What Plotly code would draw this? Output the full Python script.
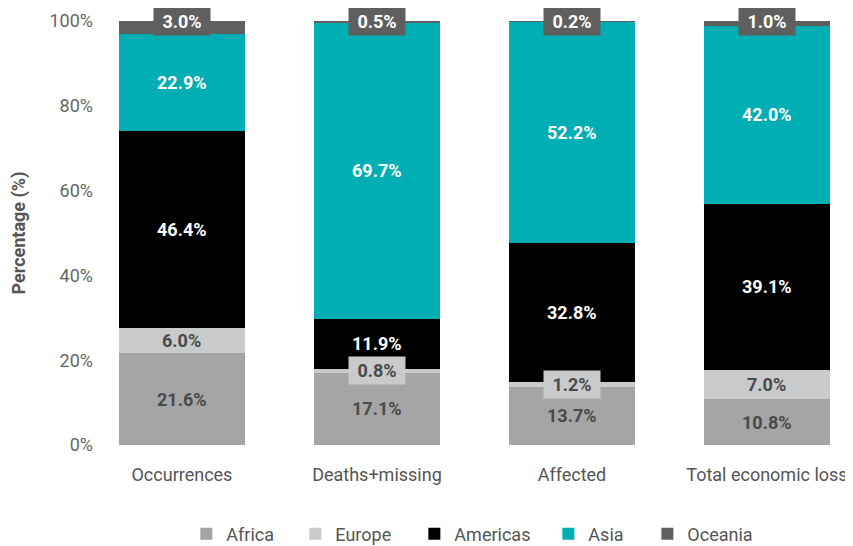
import plotly.graph_objects as go

categories = ["Occurrences", "Deaths+missing", "Affected", "Total economic loss"]
regions = ["Africa", "Europe", "Americas", "Asia", "Oceania"]
africa = [21.6, 17.1, 13.7, 10.8]
europe = [6.0, 0.8, 1.2, 7.0]
americas = [46.4, 11.9, 32.8, 39.1]
asia = [22.9, 69.7, 52.2, 42.0]
oceania = [3.0, 0.5, 0.2, 1.0]
y_ticks = [0, 20, 40, 60, 80, 100]
y_tick_labels = ["0%", "20%", "40%", "60%", "80%", "100%"]

series = [africa, europe, americas, asia, oceania]
colors = ["#a5a5a5", "#c9cacc", "#000000", "#00aeb3", "#5f5f5f"]
text_colors = ["#4a4a4a", "#4a4a4a", "#ffffff", "#ffffff", "#ffffff"]
legend_widths = [64, 74, 89, 54, 60]

fig = go.Figure()
for name, vals, col, lw in zip(regions, series, colors, legend_widths):
    fig.add_trace(go.Bar(x=categories, y=vals, name=name, marker=dict(color=col, line=dict(width=0)),
                         width=0.65, legendwidth=lw))

annotations = []
for ci, cat in enumerate(categories):
    base = 0.0
    for si, vals in enumerate(series):
        v = vals[ci]
        mid = base + v / 2
        small = v < 4
        is_top = si == len(series) - 1
        ypos = min(base + v, 100) if is_top else mid
        ann = dict(
            x=cat, y=ypos, xref="x", yref="y", text=f"{v:.1f}%", showarrow=False,
            font=dict(family="Roboto", size=18, color=text_colors[si], weight="bold"),
            xanchor="center", yanchor="middle")
        if small:
            ann.update(bgcolor=colors[si], borderpad=3, width=50, height=21)
        annotations.append(ann)
        base += v

# the page adds an 8px body margin, so the figure is sized to the visible area
fig.update_layout(
    barmode="stack",
    width=845, height=538,
    margin=dict(l=86, r=10, t=13, b=101),
    plot_bgcolor="white", paper_bgcolor="white",
    font=dict(family="Roboto", size=18, color="#555555"),
    annotations=annotations,
    showlegend=True,
    legend=dict(orientation="h", x=0.546, xanchor="center", xref="container",
                y=0.022, yanchor="middle", yref="container",
                font=dict(size=18, color="#555555"), traceorder="normal"),
    xaxis=dict(range=[-0.451, 3.39], showgrid=False, showline=False, ticks="",
               automargin=False, ticklabelstandoff=17,
               tickfont=dict(size=18, color="#555555")),
    yaxis=dict(range=[0, 100], tickvals=y_ticks, ticktext=y_tick_labels, showgrid=False,
               zeroline=False, showline=False, ticks="", automargin=False,
               tickfont=dict(size=18, color="#666666"),
               title=dict(text="<b>Percentage (%)</b>", font=dict(size=18, color="#555555"),
                          standoff=30)),
)
fig.write_html("out.html")
